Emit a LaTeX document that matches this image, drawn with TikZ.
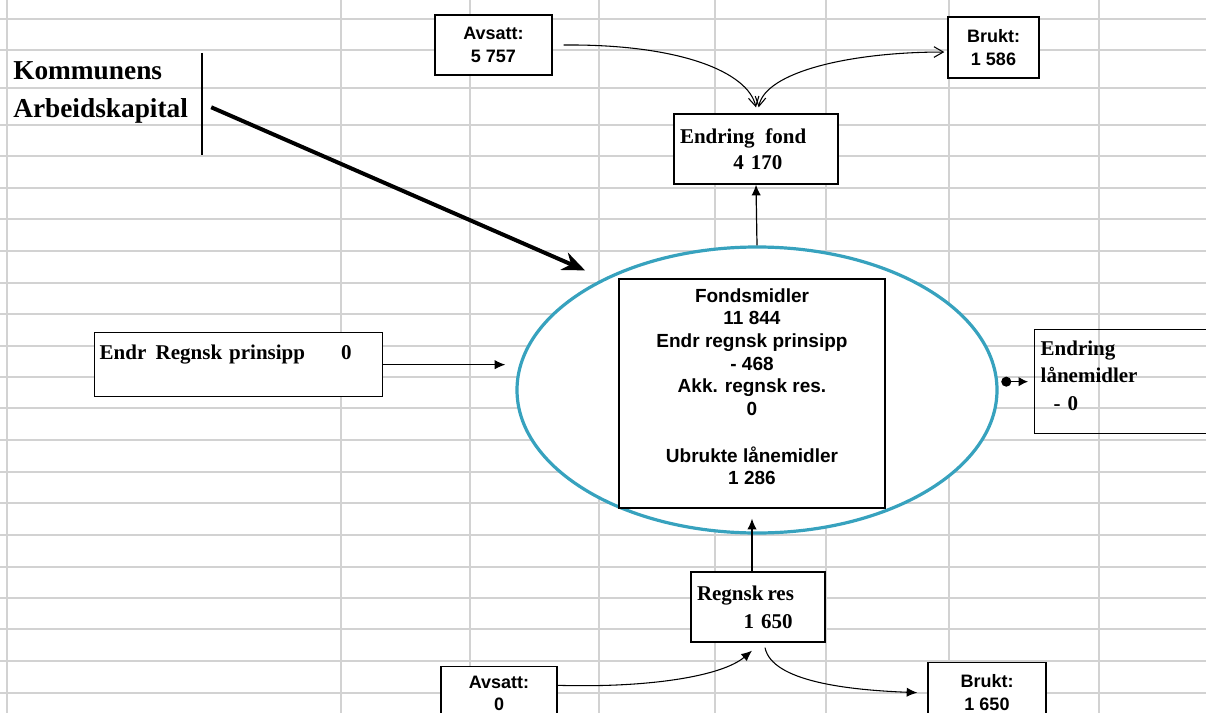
\documentclass[tikz,border=0pt]{standalone}
\usepackage{fontspec}
\setmainfont{Liberation Serif}
\setsansfont{Liberation Sans}
\usepackage{tikz}
\usetikzlibrary{shapes,arrows,arrows.meta,calc}
\definecolor{gridgray}{RGB}{210,210,210}
\definecolor{ringblue}{RGB}{55,162,190}
\tikzstyle{cellgrid} = [draw=gridgray, line width=1.3pt]
\tikzstyle{line} = [draw, line width=0.9pt, -{Latex[length=8pt,width=7pt]}]
\tikzstyle{flow} = [draw, line width=0.8pt]
\tikzstyle{barb} = [flow, -{Straight Barb[length=7pt,width=8pt]}]
\tikzstyle{twobarb} = [flow, {Straight Barb[length=7pt,width=8pt]}-{Straight Barb[length=7pt,width=8pt]}]
\tikzstyle{numbox} = [draw, rectangle, fill=white, line width=1pt, align=center, inner sep=0pt, font={\fontsize{13.5}{17.25}\selectfont\sffamily\bfseries}]
\tikzstyle{block} = [draw, rectangle, fill=white, line width=1pt, align=left, inner xsep=4.5pt, font={\fontsize{15.75}{19.5}\selectfont\bfseries}]

\begin{document}
\begin{tikzpicture}[x=0.75pt, y=-0.75pt]
        \useasboundingbox (0,0) rectangle (1206,713);
        \clip (0,0) rectangle (1206,713);
        \fill[white] (0,0) rectangle (1206,713);
        % spreadsheet cells
        \foreach \y in {19,50,88,125,156,188,219,251,283,314,346,377,408,440,472,503,535,567,598,629,661,693}
            \path[cellgrid] (0,\y) -- (1206,\y);
        \foreach \x in {7,341,470,599,715,826,949,1099}
            \path[cellgrid] (\x,0) -- (\x,713);
        \node[anchor=north west, inner sep=0pt, align=left, font={\fontsize{20.5}{28.5}\selectfont\bfseries}] (kap) at (13,61) {Kommunens\\Arbeidskapital};
        \draw[line width=1pt] (202,53) -- (202,155);
        \node[ellipse, draw=ringblue, line width=2.4pt, fill=white, minimum width=360pt, minimum height=214.5pt, inner sep=0pt] (ring) at (757,390) {};
        \node[numbox, font={\fontsize{14.25}{17}\selectfont\sffamily\bfseries}, minimum width=199.5pt, minimum height=171.75pt] (fonds) at (752,393.5) {Fondsmidler\\11 844\\Endr regnsk prinsipp\\- 468\\Akk. regnsk res.\\0\\[18pt]Ubrukte lånemidler\\1 286\rule[-10.5pt]{0pt}{10.5pt}};
        \node[numbox, minimum width=87.75pt, minimum height=45pt] (avs1) at (493.5,45) {Avsatt:\\5 757};
        \node[numbox, minimum width=68.25pt, minimum height=45.75pt] (bruk1) at (993.5,47.5) {Brukt:\\1 586};
        \node[block, text width=114pt, minimum height=52.5pt] (fond) at (756,149) {Endring\hspace{8pt}fond\\\hspace*{40pt}4 170};
        \node[block, font={\fontsize{15.75}{21}\selectfont\bfseries}, text width=91.5pt, minimum height=52.5pt] (regn) at (758,607) {Regnsk\hspace{3pt}res\\\hspace*{35pt}1 650};
        \node[block, anchor=north west, text width=208.5pt, inner xsep=3.75pt, inner ysep=4pt, text height=16.25pt, text depth=23.75pt] (prin) at (94,332) {Endr\hspace{7pt}Regnsk prinsipp\hspace{27pt}0};
        \node[block, fill=none, font={\fontsize{15.75}{20.6}\selectfont\bfseries}, anchor=north west, text width=141pt, minimum height=78pt] (laan) at (1034,329) {Endring\\lånemidler\\\hspace*{9.75pt}- 0\rule[-9pt]{0pt}{9pt}};
        \node[numbox, font={\fontsize{13.5}{16}\selectfont\sffamily\bfseries}, anchor=north, minimum width=87pt, minimum height=40pt] (avs0) at (499,666) {Avsatt:\\0};
        \node[numbox, anchor=north, minimum width=88.5pt, minimum height=45pt] (bruk0) at (987,662) {Brukt:\\1 650};
        % connectors
        \path[draw, line width=3pt, shorten >=15pt, -{Stealth[length=17pt,width=14pt]}] ([xshift=17.25pt,yshift=12pt]kap.south east) -- (ring.144);
        \path[line] (ring.north) -- (fond.south);
        \path[line] (fonds.south |- regn.north) -- ([yshift=-7.5pt]fonds.south);
        \path[line, shorten >=7.5pt] (prin.east) -- (prin.east -| ring.west);
        \path[draw, line width=0.9pt, shorten <=2pt, shorten >=4.5pt, {Circle[length=7.5pt]}-{Latex[length=7pt,width=7pt]}] (ring.east |- laan.west) -- (laan.west);
        \path[barb] ([xshift=8.25pt]avs1.east) .. controls (680,44) and (748,72) .. ([yshift=4.5pt]fond.north);
        \path[twobarb] ([xshift=2pt,yshift=4.5pt]fond.north) .. controls (765,72) and (850,52) .. ([xshift=-2.25pt,yshift=-3.4pt]bruk1.west);
        \path[line, line width=0.8pt] ([yshift=6pt]avs0.east) .. controls (650,688) and (722,676) .. ([xshift=-4.5pt,yshift=-6pt]regn.south);
        \path[line, line width=0.8pt] ([xshift=5.25pt,yshift=-3.75pt]regn.south) .. controls (772,682) and (850,690) .. ([xshift=-7.5pt]bruk0.west);
    \end{tikzpicture}
\end{document}
